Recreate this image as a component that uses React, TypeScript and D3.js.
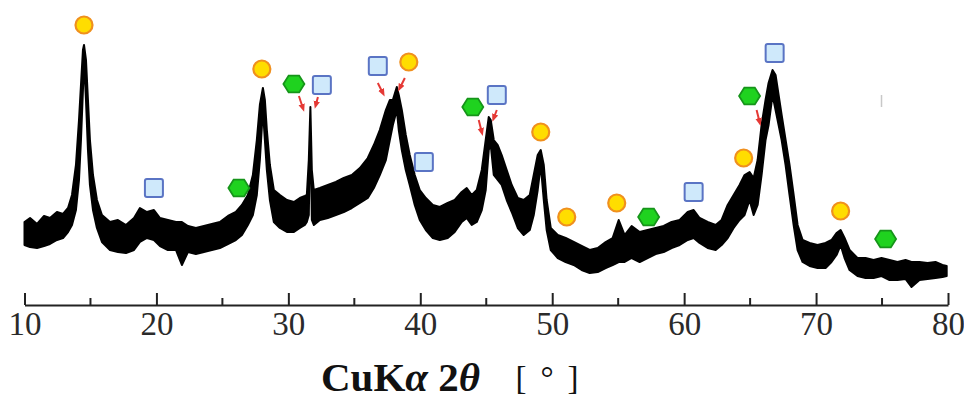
import React, { useEffect, useRef } from "react";
import * as d3 from "d3";

// ---- data (2θ in degrees, intensity in arbitrary units) ----
const twoTheta = [
  10.0, 10.42, 10.95, 11.48, 11.93, 12.46, 12.92, 13.3, 13.6, 13.9, 14.13, 14.28, 14.43, 14.51, 14.66, 14.81, 14.96,
  15.19, 15.49, 15.87, 16.48, 17.08, 17.69, 18.3, 18.75, 19.28, 19.81, 20.27, 20.87, 21.48, 21.93, 22.39, 22.99,
  23.6, 24.2, 24.81, 25.42, 26.02, 26.48, 26.93, 27.31, 27.61, 27.84, 28.07, 28.22, 28.37, 28.6, 28.9, 29.36, 29.89,
  30.42, 30.87, 31.25, 31.4, 31.55, 31.67, 31.78, 31.93, 32.39, 32.99, 33.6, 34.2, 34.81, 35.42, 36.02, 36.48, 36.93,
  37.39, 37.69, 37.92, 38.22, 38.37, 38.6, 38.9, 39.2, 39.58, 39.96, 40.42, 40.95, 41.48, 42.08, 42.61, 43.14, 43.52,
  43.9, 44.28, 44.66, 44.96, 45.19, 45.34, 45.57, 45.87, 46.17, 46.55, 46.93, 47.39, 47.84, 48.3, 48.6, 48.9, 49.13,
  49.36, 49.58, 49.89, 50.42, 51.02, 51.63, 52.23, 52.84, 53.45, 54.05, 54.58, 55.04, 55.49, 56.02, 56.63, 57.23,
  57.84, 58.45, 59.05, 59.66, 60.27, 60.72, 61.17, 61.78, 62.39, 62.84, 63.3, 63.75, 64.2, 64.58, 64.96, 65.27, 65.57,
  65.87, 66.17, 66.4, 66.7, 66.93, 67.16, 67.39, 67.69, 67.99, 68.3, 68.6, 68.98, 69.51, 70.11, 70.72, 71.17, 71.55,
  71.86, 72.16, 72.54, 73.14, 73.75, 74.36, 74.96, 75.57, 76.17, 76.78, 77.23, 77.84, 78.45, 79.05, 79.58, 79.9,
];
const upperI = [
  78, 82, 76, 84, 82, 88, 86, 92, 105, 135, 180, 215, 250, 255, 240, 200, 160,
  125, 100, 85, 78, 80, 75, 82, 92, 88, 90, 82, 80, 78, 78, 74, 72,
  74, 76, 78, 84, 88, 95, 105, 125, 160, 195, 212, 200, 170, 135, 110, 105, 100,
  98, 102, 104, 105, 140, 193, 130, 110, 112, 115, 118, 122, 125, 132, 142, 155, 170,
  190, 200, 200, 213, 205, 190, 165, 145, 125, 110, 102, 95, 93, 97, 100, 108, 112,
  105, 110, 130, 160, 183, 180, 160, 155, 145, 130, 115, 102, 100, 105, 125, 145, 150,
  135, 100, 72, 65, 62, 58, 54, 50, 52, 58, 62, 80, 65, 74, 68, 70,
  72, 74, 78, 80, 88, 90, 82, 78, 75, 80, 95, 105, 115, 125, 128, 122, 140,
  175, 200, 217, 230, 225, 205, 185, 160, 135, 105, 75, 60, 57, 55, 57, 60, 67,
  70, 62, 50, 42, 42, 40, 42, 40, 38, 40, 38, 38, 37, 38, 35, 34,
];
const lowerI = [
  55, 53, 52, 54, 56, 60, 62, 68, 75, 90, 120, 160, 210, 240, 200, 150, 115,
  90, 72, 58, 50, 48, 47, 50, 58, 62, 60, 54, 50, 50, 35, 48, 46,
  48, 50, 52, 56, 60, 65, 75, 85, 105, 140, 190, 160, 130, 100, 78, 72, 68,
  68, 72, 75, 78, 85, 182, 80, 75, 80, 82, 85, 88, 92, 97, 102, 112, 125,
  140, 160, 175, 190, 170, 150, 130, 115, 95, 80, 70, 62, 60, 62, 68, 78, 82,
  75, 78, 90, 110, 150, 155, 125, 120, 115, 100, 88, 72, 65, 70, 85, 110, 135,
  100, 70, 50, 42, 38, 35, 30, 27, 28, 32, 35, 38, 38, 42, 38, 42,
  46, 48, 52, 55, 60, 62, 57, 52, 50, 55, 62, 72, 80, 85, 100, 85, 95,
  125, 160, 175, 205, 190, 175, 160, 135, 105, 75, 50, 38, 34, 32, 32, 38, 45,
  55, 42, 30, 24, 22, 22, 24, 20, 20, 21, 13, 20, 21, 22, 23, 24,
];

// phase markers
const circleTheta = [14.51, 27.99, 39.13, 49.13, 51.1, 54.89, 64.51, 71.86];
const circleI = [275, 231, 238, 168, 83, 97, 142, 89];
const squareTheta = [19.81, 32.54, 36.78, 40.27, 45.8, 60.72, 66.86];
const squareI = [112, 215, 234, 138, 205, 108, 247];
const hexTheta = [26.25, 30.42, 43.98, 57.31, 64.96, 75.27];
const hexI = [112, 216, 193, 83, 204, 61];

// red arrows (start -> end)
const arrowFromTheta = [30.8, 32.24, 36.78, 38.83, 44.43, 45.8, 65.49];
const arrowFromI = [204, 203, 217, 222, 180, 190, 190];
const arrowToTheta = [31.1, 32.08, 37.16, 38.45, 44.66, 45.57, 65.72];
const arrowToI = [192, 195, 207, 212, 168, 182, 178];

const majorTicks = [10, 20, 30, 40, 50, 60, 70, 80];
const minorTicks = [15, 25, 35, 45, 55, 65, 75];

const W = 964;
const H = 403;

export default function App() {
  const axisRef = useRef<SVGGElement | null>(null);

  const x = d3.scaleLinear().domain([10, 80]).range([24.5, 948]);
  const y = d3.scaleLinear().domain([0, 300]).range([300, 0]);
  const axisY = 305;

  const pts = twoTheta.map((t, i) => ({ t, hi: upperI[i], lo: lowerI[i] }));
  const area = d3
    .area<{ t: number; hi: number; lo: number }>()
    .x((d) => x(d.t))
    .y0((d) => y(d.lo))
    .y1((d) => y(d.hi))
    .curve(d3.curveLinear);

  const hexPath = (r: number) => {
    const p = d3.path();
    for (let k = 0; k < 6; k++) {
      const a = (Math.PI / 3) * k;
      const px = r * Math.cos(a);
      const py = r * Math.sin(a) * 0.92;
      if (k === 0) p.moveTo(px, py);
      else p.lineTo(px, py);
    }
    p.closePath();
    return p.toString();
  };

  useEffect(() => {
    if (!axisRef.current) return;
    const g = d3.select(axisRef.current);
    g.selectAll("*").remove();
    g.call(
      d3
        .axisBottom(x)
        .tickValues(majorTicks)
        .tickSizeInner(-12)
        .tickSizeOuter(0)
        .tickPadding(7)
        .tickFormat(d3.format("d"))
    );
    g.attr("font-family", null).attr("font-size", null);
    g.select(".domain").attr("stroke", "#222").attr("stroke-width", 2);
    g.selectAll(".tick line").attr("stroke", "#222").attr("stroke-width", 2);
    g.selectAll(".tick text")
      .attr("fill", "#2a2a2a")
      .attr("font-family", "'Liberation Serif', 'DejaVu Serif', serif")
      .attr("font-size", 33);
    g.selectAll(".minor")
      .data(minorTicks)
      .join("line")
      .attr("class", "minor")
      .attr("x1", (d) => x(d))
      .attr("x2", (d) => x(d))
      .attr("y1", 0)
      .attr("y2", -7)
      .attr("stroke", "#222")
      .attr("stroke-width", 2);
  }, []);

  return (
    <svg
      width={W}
      height={H}
      viewBox={`0 0 ${W} ${H}`}
      style={{ position: "absolute", left: 0, top: 0, background: "#fff", display: "block" }}
    >
      <defs>
        <marker id="ah" viewBox="0 0 10 10" refX="5" refY="5" markerWidth="4" markerHeight="4" orient="auto">
          <path d="M0,1 L10,5 L0,9 z" fill="#e53935" />
        </marker>
      </defs>
      <rect width={W} height={H} fill="#fff" />

      {/* diffraction pattern (noise band between upper and lower envelope) */}
      <path d={area(pts) || ""} fill="#000" stroke="#000" strokeWidth={2} strokeLinejoin="round" />

      {/* stray mark */}
      <line x1={x(74.96)} x2={x(74.96)} y1={y(205)} y2={y(193)} stroke="#c8c8c8" strokeWidth={1.5} />

      {/* arrows */}
      {arrowFromTheta.map((t, i) => (
        <line
          key={"a" + i}
          x1={x(t)}
          y1={y(arrowFromI[i])}
          x2={x(arrowToTheta[i])}
          y2={y(arrowToI[i])}
          stroke="#e53935"
          strokeWidth={2}
          markerEnd="url(#ah)"
        />
      ))}

      {/* circles */}
      {circleTheta.map((t, i) => (
        <circle key={"c" + i} cx={x(t)} cy={y(circleI[i])} r={8.5} fill="#ffdd00" stroke="#f0901e" strokeWidth={2.2} />
      ))}

      {/* squares */}
      {squareTheta.map((t, i) => (
        <rect
          key={"s" + i}
          x={x(t) - 9}
          y={y(squareI[i]) - 9}
          width={18}
          height={18}
          rx={2}
          fill="#cfe9fb"
          stroke="#5a74c4"
          strokeWidth={2}
        />
      ))}

      {/* hexagons */}
      {hexTheta.map((t, i) => (
        <path
          key={"h" + i}
          d={hexPath(10.5)}
          transform={`translate(${x(t)},${y(hexI[i])})`}
          fill="#1fd21f"
          stroke="#16941a"
          strokeWidth={1.8}
        />
      ))}

      <g ref={axisRef} transform={`translate(0,${axisY})`} />

      <text
        x={321}
        y={391}
        fontFamily="'Liberation Serif', 'DejaVu Serif', serif"
        fontSize={41}
        fontWeight="bold"
        fill="#111"
      >
        CuK<tspan fontStyle="italic">α</tspan> 2<tspan fontStyle="italic">θ</tspan>
      </text>
      <text
        x={547}
        y={389}
        fontFamily="'Liberation Serif', 'DejaVu Serif', serif"
        fontSize={33}
        fill="#111"
        textAnchor="middle"
      >
        [<tspan dx={14}>°</tspan><tspan dx={14}>]</tspan>
      </text>
    </svg>
  );
}
